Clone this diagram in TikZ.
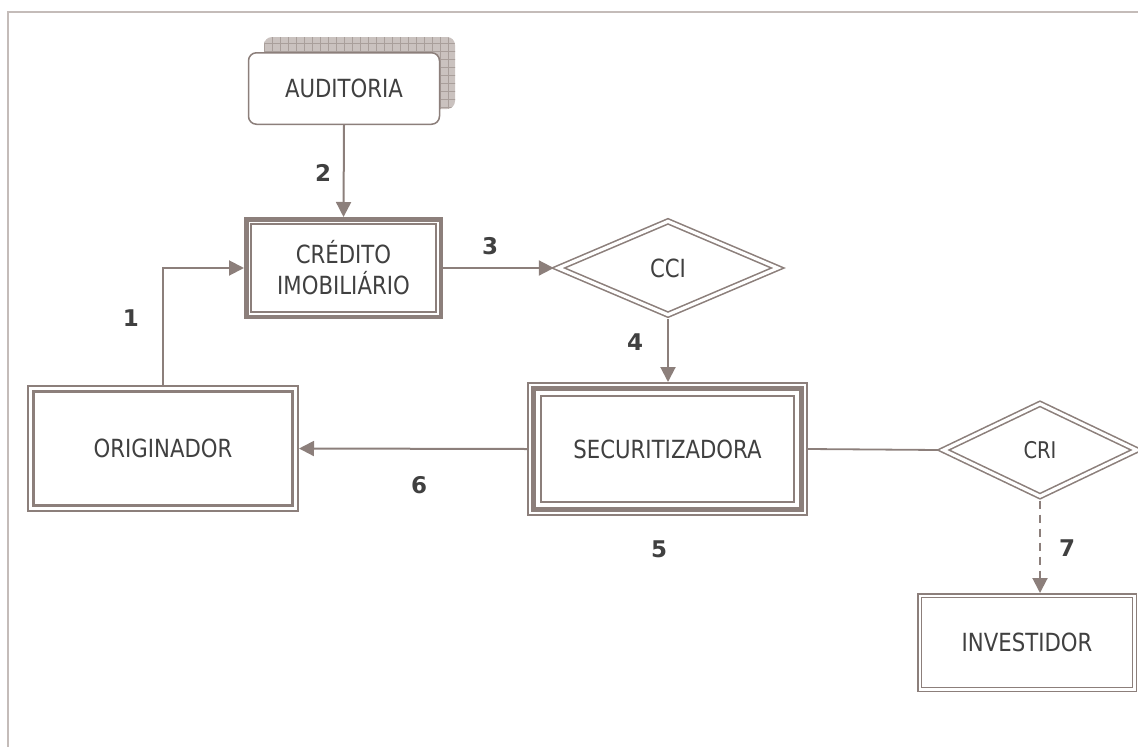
\documentclass[tikz,border=0pt]{standalone}
\usepackage{fontspec}
\setmainfont{DejaVu Sans}[FakeStretch=0.85]
\newfontfamily\labfont{DejaVu Sans}
\usetikzlibrary{arrows.meta,shapes.geometric,calc,patterns.meta}
\definecolor{lc}{HTML}{8C7F7B}
\definecolor{tc}{HTML}{404040}
\definecolor{fc}{HTML}{C4BCB9}
\definecolor{sf}{HTML}{CAC2BF}
\definecolor{sg}{HTML}{A99F9B}
\begin{document}
\begin{tikzpicture}[x=1pt,y=-1pt,
  box/.style={draw=lc, fill=white, text=tc, font=\fontsize{25}{31}\selectfont, align=center, inner sep=0pt},
  dia/.style={diamond, draw=lc, double=white, line width=1.6pt, double distance=3.2pt, text=tc, font=\fontsize{25}{31}\selectfont, inner sep=0pt, outer sep=3.2pt},
  arr/.style={draw=lc, line width=2pt, -{Triangle[length=15pt,width=15pt]}},
  plainline/.style={draw=lc, line width=1.8pt},
  num/.style={text=tc, font=\labfont\bfseries\fontsize{23}{23}\selectfont, inner sep=0pt}
]
\useasboundingbox (0,0) rectangle (1138,747);
\draw[fc, line width=2pt] (8,760) -- (8,12) -- (1150,12);

% shadow of AUDITORIA
\fill[sf, rounded corners=8pt] (264,37) rectangle (455,109);
\fill[pattern={Lines[angle=0,distance=8pt,line width=0.6pt]}, pattern color=sg, rounded corners=8pt] (264,37) rectangle (455,109);
\fill[pattern={Lines[angle=90,distance=8pt,line width=0.6pt]}, pattern color=sg, rounded corners=8pt] (264,37) rectangle (455,109);

\node[box, rounded corners=8pt, line width=1.5pt, minimum width=191pt, minimum height=71.5pt] (aud) at (344,88.5) {AUDITORIA};

\node[box, line width=4.5pt, minimum width=194.5pt, minimum height=97.5pt] (cred) at (343.5,268) {CRÉDITO\\IMOBILIÁRIO};
\draw[lc, line width=1.5pt] ($(cred.north west)+(7,7)$) rectangle ($(cred.south east)+(-7,-7)$);

\node[dia, minimum width=222pt, minimum height=96pt] (cci) at (668,268) {CCI};

\node[box, line width=2pt, minimum width=279pt, minimum height=132pt] (sec) at (667.5,449) {SECURITIZADORA};
\draw[lc, line width=4.2pt] ($(sec.north west)+(6.5,6.5)$) rectangle ($(sec.south east)+(-6.5,-6.5)$);
\draw[lc, line width=2pt] ($(sec.north west)+(14,14)$) rectangle ($(sec.south east)+(-14,-14)$);

\node[box, line width=2.2pt, minimum width=269.8pt, minimum height=124.8pt] (orig) at (163,448.5) {ORIGINADOR};
\draw[lc, line width=2.2pt] ($(orig.north west)+(6.5,6.5)$) rectangle ($(orig.south east)+(-6.5,-6.5)$);

\node[box, line width=1.5pt, minimum width=218.5pt, minimum height=97.5pt] (inv) at (1027,642.5) {INVESTIDOR};
\draw[lc, line width=1.5pt] ($(inv.north west)+(4.5,4.5)$) rectangle ($(inv.south east)+(-4.5,-4.5)$);

\node[dia, minimum width=196pt, minimum height=95pt, font=\fontsize{23}{28}\selectfont] (cri) at (1040,450) {CRI};

\draw[arr] (aud.south) -- (cred.north);
\draw[arr] (orig.north) |- (cred.west);
\draw[arr] (cred.east) -- (cci.west);
\draw[arr] (cci.south) -- (cci.south |- sec.north);
\draw[arr] (sec.west) -- (orig.east);
\draw[plainline] (sec.east) -- (cri.west);
\draw[arr, dash pattern=on 8pt off 6pt] (cri.south) -- (cri.south |- inv.north);

\node[num] (n1) at (131,318) {1};
\node[num] (n2) at (323,173) {2};
\node[num] (n3) at (490,246) {3};
\node[num] (n4) at (635,342) {4};
\node[num] (n5) at (659,549) {5};
\node[num] (n6) at (419,485) {6};
\node[num] (n7) at (1067,548) {7};
\end{tikzpicture}
\end{document}
